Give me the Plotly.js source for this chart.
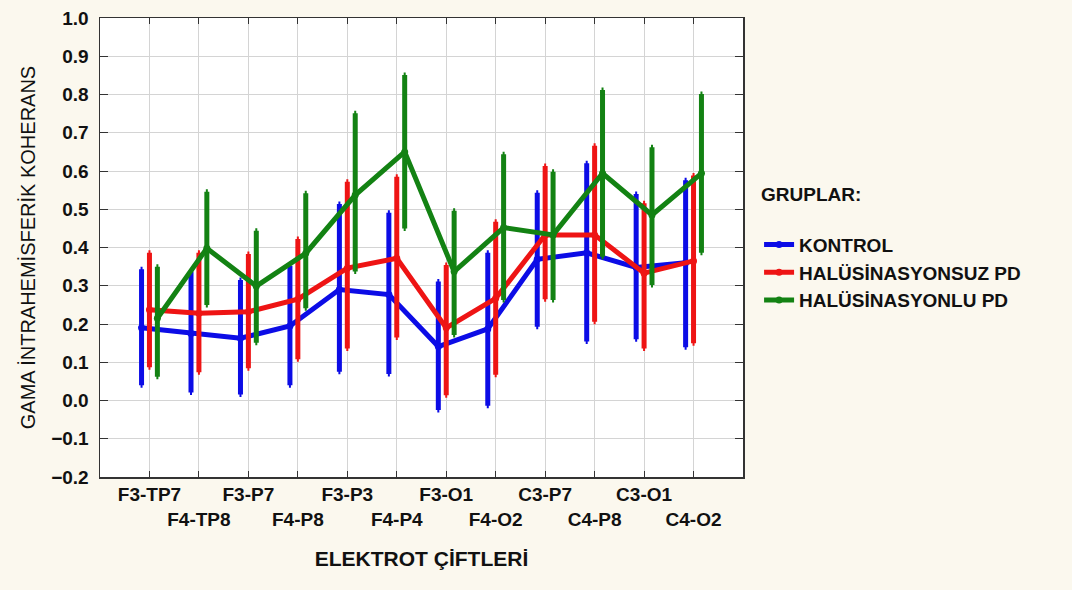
<!DOCTYPE html>
<html>
<head>
<meta charset="utf-8">
<script src="https://cdn.plot.ly/plotly-3.0.1.min.js"></script>
<style>
  html, body { margin: 0; padding: 0; background: #fbf8ee; }
  #chart { width: 1072px; height: 590px; }
</style>
</head>
<body>
<div id="chart"></div>
<script>
// Categories (electrode pairs)
const categories = ['F3-TP7','F4-TP8','F3-P7','F4-P8','F3-P3','F4-P4','F3-O1','F4-O2','C3-P7','C4-P8','C3-O1','C4-O2'];

// KONTROL
const kontrolMean  = [0.190, 0.175, 0.163, 0.195, 0.290, 0.277, 0.141, 0.187, 0.369, 0.386, 0.348, 0.360];
const kontrolUpper = [0.343, 0.337, 0.315, 0.352, 0.514, 0.491, 0.311, 0.386, 0.543, 0.620, 0.540, 0.576];
const kontrolLower = [0.040, 0.021, 0.016, 0.040, 0.075, 0.069, -0.025, -0.014, 0.193, 0.154, 0.160, 0.139];

// HALÜSİNASYONSUZ PD
const halsuzMean  = [0.237, 0.228, 0.232, 0.265, 0.346, 0.372, 0.190, 0.267, 0.433, 0.433, 0.333, 0.365];
const halsuzUpper = [0.386, 0.386, 0.383, 0.422, 0.572, 0.585, 0.354, 0.467, 0.613, 0.666, 0.516, 0.588];
const halsuzLower = [0.087, 0.074, 0.084, 0.108, 0.136, 0.165, 0.014, 0.067, 0.265, 0.206, 0.136, 0.150];

// HALÜSİNASYONLU PD
const hallyMean  = [0.215, 0.398, 0.299, 0.385, 0.537, 0.650, 0.337, 0.452, 0.433, 0.594, 0.485, 0.594];
const hallyUpper = [0.350, 0.546, 0.444, 0.542, 0.751, 0.851, 0.496, 0.644, 0.598, 0.812, 0.662, 0.801];
const hallyLower = [0.062, 0.250, 0.151, 0.241, 0.337, 0.450, 0.171, 0.263, 0.263, 0.376, 0.302, 0.386];

const groupNames = ['KONTROL', 'HALÜSİNASYONSUZ PD', 'HALÜSİNASYONLU PD'];

// Tick labels alternate between two rows
const tickText = categories.map((c, i) => (i % 2 === 0 ? c : '<br>' + c));
const tickVals = categories.map((c, i) => i);

const FONT = '"Liberation Sans", Arial, sans-serif';

function makeTrace(name, mean, upper, lower, color, offset) {
  return {
    type: 'scatter',
    mode: 'lines+markers',
    name: name,
    x: categories.map((c, i) => i + offset),
    y: mean,
    line: { color: color, width: 5 },
    marker: { color: color, size: 7 },
    error_y: {
      type: 'data',
      symmetric: false,
      array: upper.map((u, i) => u - mean[i]),
      arrayminus: lower.map((l, i) => mean[i] - l),
      color: color,
      thickness: 5,
      width: 1
    },
    hoverinfo: 'skip'
  };
}

const data = [
  makeTrace(groupNames[0], kontrolMean, kontrolUpper, kontrolLower, '#0c0ce6', -0.16),
  makeTrace(groupNames[1], halsuzMean, halsuzUpper, halsuzLower, '#ee1414', 0),
  makeTrace(groupNames[2], hallyMean, hallyUpper, hallyLower, '#138213', 0.16)
];

const layout = {
  width: 1072,
  height: 590,
  paper_bgcolor: '#fbf8ee',
  plot_bgcolor: '#ffffff',
  margin: { l: 100, r: 329, t: 18, b: 113 },
  font: { family: FONT, color: '#111111' },
  showlegend: true,
  xaxis: {
    range: [-1, 12],
    tickmode: 'array',
    tickvals: tickVals,
    ticktext: tickText,
    tickangle: 0,
    ticks: 'inside',
    ticklen: 6,
    tickcolor: '#333333',
    showline: true,
    linecolor: '#333333',
    linewidth: 1.5,
    mirror: 'allticks',
    showgrid: true,
    gridcolor: '#d4d4d4',
    gridwidth: 1,
    zeroline: false,
    ticklabelstandoff: 0,
    tickfont: { family: FONT, size: 19, color: '#111111', weight: 'bold' },
    title: {
      text: 'ELEKTROT ÇİFTLERİ',
      font: { family: FONT, size: 21, color: '#111111', weight: 'bold' },
      standoff: 22
    }
  },
  yaxis: {
    range: [-0.2, 1.0],
    dtick: 0.1,
    tick0: 0,
    tickformat: '.1f',
    ticks: 'inside',
    ticklen: 8,
    tickcolor: '#333333',
    showline: true,
    linecolor: '#333333',
    linewidth: 1.5,
    mirror: 'allticks',
    showgrid: true,
    gridcolor: '#d4d4d4',
    gridwidth: 1,
    zeroline: false,
    ticklabelstandoff: 6,
    tickfont: { family: FONT, size: 19, color: '#111111', weight: 'bold' },
    title: {
      text: 'GAMA İNTRAHEMİSFERİK KOHERANS',
      font: { family: FONT, size: 20, color: '#111111' },
      standoff: 10
    }
  },
  legend: {
    x: 1.025,
    xanchor: 'left',
    y: 0.655,
    yanchor: 'top',
    bgcolor: 'rgba(0,0,0,0)',
    borderwidth: 0,
    itemwidth: 30,
    tracegroupgap: 0,
    font: { family: FONT, size: 19, color: '#111111', weight: 'bold' },
    title: {
      text: 'GRUPLAR:<br>&#160;',
      side: 'top',
      font: { family: FONT, size: 19, color: '#111111', weight: 'bold' }
    }
  }
};

Plotly.newPlot('chart', data, layout, { displayModeBar: false, staticPlot: true });
</script>
</body>
</html>
